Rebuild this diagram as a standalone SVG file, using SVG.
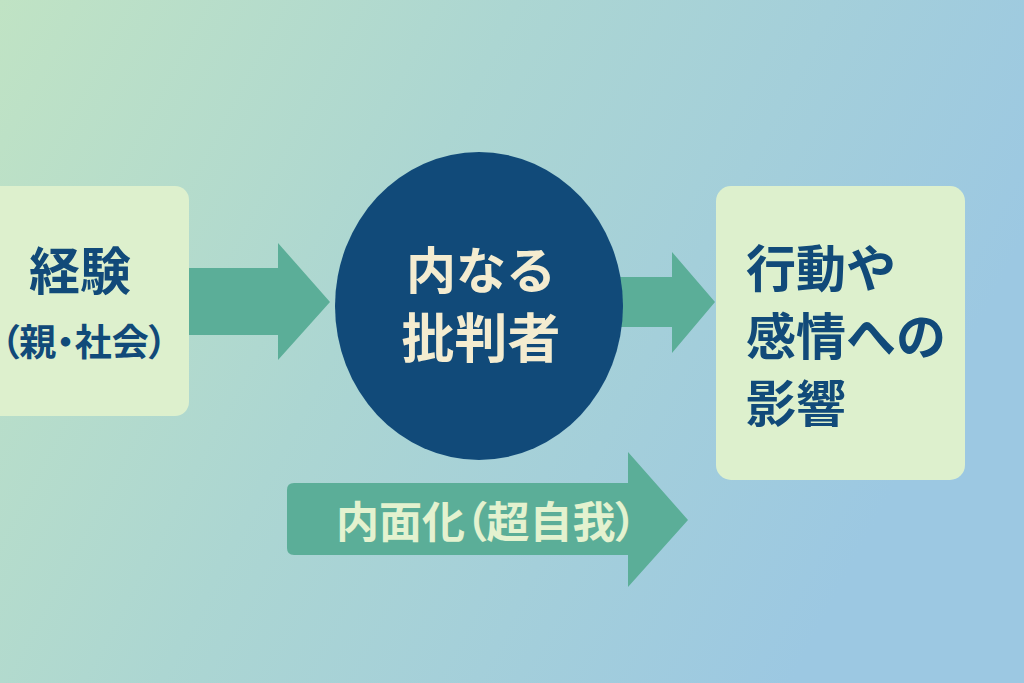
<svg xmlns="http://www.w3.org/2000/svg" width="1024" height="683" viewBox="0 0 1024 683">
<defs>
<linearGradient id="bg" x1="0" y1="0" x2="1" y2="0.35">
<stop offset="0" stop-color="#c0e3c4"/>
<stop offset="0.45" stop-color="#acd6d2"/>
<stop offset="1" stop-color="#9cc8e2"/>
</linearGradient>
<style>
.box{fill:#ddf0cd}
.arrow{fill:#5bae98}
.dark{fill:#114a79;font-family:"Noto Sans CJK JP","Noto Sans CJK SC",sans-serif;font-weight:700}
.light{fill:#f4ecd0;font-family:"Noto Sans CJK JP","Noto Sans CJK SC",sans-serif;font-weight:700}
.light2{fill:#e4f2cf;font-family:"Noto Sans CJK JP","Noto Sans CJK SC",sans-serif;font-weight:700}
.palt{font-feature-settings:"palt" 1}
</style>
</defs>
<rect x="0" y="0" width="1024" height="683" fill="url(#bg)"/>
<g id="connectors">
<path class="arrow" d="M189,268 H278 V243 L330,302 L278,360 V335 H189 Z"/>
<path class="arrow" d="M620,277 H672 V252 L715,302 L672,353 V327 H620 Z"/>
</g>
<g id="node-experience">
<rect class="box" x="-20" y="186" width="209" height="230" rx="14"/>
<text class="dark" x="80" y="290" font-size="51" text-anchor="middle">経験</text>
<text class="dark palt" x="84" y="356" font-size="37" text-anchor="middle">（親・社会）</text>
</g>
<g id="node-critic">
<ellipse cx="479" cy="306" rx="144" ry="154" fill="#114a79"/>
<text class="light" x="481" y="289" font-size="50" text-anchor="middle">内なる</text>
<text class="light" x="481" y="358" font-size="53" text-anchor="middle">批判者</text>
</g>
<g id="node-effect">
<rect class="box" x="716" y="186" width="249" height="294" rx="15"/>
<text class="dark" x="746" y="287" font-size="50">行動や</text>
<text class="dark" x="746" y="355" font-size="50">感情への</text>
<text class="dark" x="746" y="422" font-size="50">影響</text>
</g>
<g id="node-internalization">
<path class="arrow" d="M294,483 H628 V452 L688,520 L628,587 V555 H294 Q287,555 287,548 V490 Q287,483 294,483 Z"/>
<text class="light2 palt" x="336" y="538" font-size="43">内面化（超自我）</text>
</g>
</svg>
